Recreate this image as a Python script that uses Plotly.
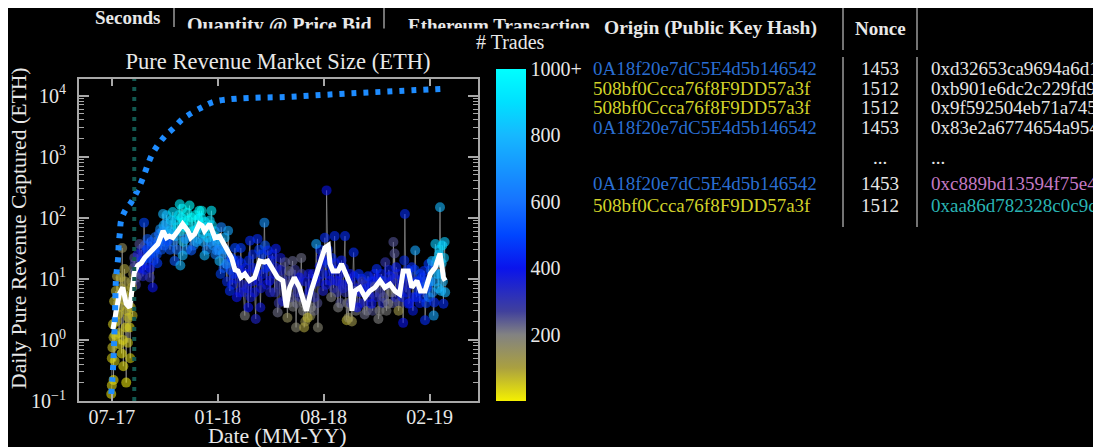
import plotly.graph_objects as go

# ---------------- data ----------------
tick_dates = ["2017-07-30", "2018-01-30", "2018-08-02", "2019-02-02"]
tick_labels = ["07-17", "01-18", "08-18", "02-19"]

y_tick_vals = [0.1, 1, 10, 100, 1000, 10000]
y_tick_text = ["10<sup>\u22121</sup>", "10<sup>0</sup>", "10<sup>1</sup>",
               "10<sup>2</sup>", "10<sup>3</sup>", "10<sup>4</sup>"]

cbar_vals = [200, 400, 600, 800, 1000]
cbar_text = ["200", "400", "600", "800", "1000+"]

# daily pure revenue (ETH) and number of trades (part 1)
day_dates = [
    "2017-07-29", "2017-07-30", "2017-07-31", "2017-08-01", "2017-08-02", "2017-08-03", "2017-08-05",
    "2017-08-06", "2017-08-08", "2017-08-10", "2017-08-12", "2017-08-14", "2017-08-16", "2017-08-17",
    "2017-08-19", "2017-08-21", "2017-08-23", "2017-08-24", "2017-08-26", "2017-08-28", "2017-08-30",
    "2017-09-01", "2017-09-03", "2017-09-05", "2017-09-07",
    "2017-09-09", "2017-09-11", "2017-09-13", "2017-09-16", "2017-09-18", "2017-09-21", "2017-09-24",
    "2017-09-26", "2017-09-29", "2017-10-01", "2017-10-04", "2017-10-06", "2017-10-09", "2017-10-12",
    "2017-10-15", "2017-10-17", "2017-10-20", "2017-10-23",
    "2017-10-26", "2017-10-27", "2017-10-29", "2017-11-01", "2017-11-04", "2017-11-07", "2017-11-10",
    "2017-11-13", "2017-11-16", "2017-11-18", "2017-11-21", "2017-11-25", "2017-11-26", "2017-11-28",
    "2017-11-30", "2017-12-02", "2017-12-05", "2017-12-08", "2017-12-12", "2017-12-15", "2017-12-18",
    "2017-12-21", "2017-12-24", "2017-12-27", "2017-12-29", "2018-01-01", "2018-01-04", "2018-01-07",
    "2018-01-10", "2018-01-13", "2018-01-16", "2018-01-19", "2018-01-22", "2018-01-25", "2018-01-28",
    "2018-01-31", "2018-02-02", "2018-02-05",
    "2018-02-08", "2018-02-11", "2018-02-14", "2018-02-17", "2018-02-20", "2018-02-23", "2018-02-26",
    "2018-03-01", "2018-03-04", "2018-03-08", "2018-03-11", "2018-03-14", "2018-03-18", "2018-03-21",
    "2018-03-24", "2018-03-27", "2018-03-30", "2018-04-02", "2018-04-06", "2018-04-09", "2018-04-11",
    "2018-04-14", "2018-04-17", "2018-04-21", "2018-04-24", "2018-04-27", "2018-04-30", "2018-05-03",
    "2018-05-08", "2018-05-11", "2018-05-14", "2018-05-17", "2018-05-20", "2018-05-23", "2018-05-27",
    "2018-05-31", "2018-06-03", "2018-06-06", "2018-06-09", "2018-06-12", "2018-06-15", "2018-06-18",
    "2018-06-21", "2018-06-24", "2018-06-27", "2018-06-29", "2018-07-02", "2018-07-05", "2018-07-08",
    "2018-07-11", "2018-07-14", "2018-07-17", "2018-07-20", "2018-07-23", "2018-07-26",
    "2018-07-29", "2018-08-01", "2018-08-04", "2018-08-07", "2018-08-10", "2018-08-13", "2018-08-15",
    "2018-08-18", "2018-08-21", "2018-08-24", "2018-08-27", "2018-08-30", "2018-09-02", "2018-09-05",
    "2018-09-08", "2018-09-11", "2018-09-14", "2018-09-17", "2018-09-20", "2018-09-23", "2018-09-26",
    "2018-09-29", "2018-10-02", "2018-10-05", "2018-10-08", "2018-10-12", "2018-10-15", "2018-10-18",
    "2018-10-21", "2018-10-24", "2018-10-27", "2018-10-30", "2018-11-02", "2018-11-05", "2018-11-08",
    "2018-11-11", "2018-11-14", "2018-11-17", "2018-11-20", "2018-11-22", "2018-11-25", "2018-11-28",
    "2018-12-01", "2018-12-03", "2018-12-06", "2018-12-10", "2018-12-13", "2018-12-16", "2018-12-18",
    "2018-12-21", "2018-12-24", "2018-12-27", "2018-12-30", "2019-01-02", "2019-01-05", "2019-01-08",
    "2019-01-11", "2019-01-14", "2019-01-17", "2019-01-20", "2019-01-23", "2019-01-25", "2019-01-28",
    "2019-01-31",
    "2019-02-03", "2019-02-06", "2019-02-09", "2019-02-10", "2019-02-12", "2019-02-15", "2019-02-18",
    "2019-02-20", "2019-02-22", "2019-02-24", "2019-02-26", "2019-02-28", "2019-03-01",
]
day_values = [
    0.13, 0.18, 0.75, 1.8, 0.22, 4.3, 1.2,
    6.3, 11, 2.6, 0.85, 10.5, 0.6, 32,
    0.37, 14.5, 1.6, 0.2, 6.3, 2.3, 1.6,
    3.4, 7.2, 12, 22,
    13, 10.5, 25, 37, 15, 20, 83,
    14, 30, 22, 10.5, 40, 7.2, 28,
    32, 18, 54, 45,
    60, 115, 35, 80, 42, 60, 90,
    124, 19.6, 50, 70, 166, 16.5, 100,
    24, 85, 45, 120, 158, 29, 60,
    70, 40, 95, 130, 100, 55, 24,
    70, 47, 90, 130, 35, 60, 29,
    45, 19.6, 70,
    26, 47, 17.5, 61, 6.3, 22, 12,
    32, 5, 14, 32, 8, 2.5, 12,
    3.4, 42, 9, 15, 2.2, 45, 9.3,
    3.4, 25, 83, 15, 29, 9.3, 20,
    12, 31, 2.8, 8, 14, 4.3, 18.7,
    2.3, 13.4, 5, 19.6, 8, 1.6, 6,
    10.5, 22, 3, 1.6, 9, 2.3, 6.3,
    3.4, 12, 5, 37, 1.6, 16,
    22, 6.3, 47, 280, 17.5, 9.3, 5,
    14, 50, 9.3, 3.4, 12, 20, 7,
    50, 2.1, 2.3, 12, 2, 27, 6.3,
    3.4, 12, 6, 9, 2.6, 7, 11,
    5, 3.9, 9, 7.5, 14.5, 2.2, 6,
    9.3, 5, 18.7, 8, 3.9, 11, 6,
    40, 26, 15.4, 3, 7, 10, 1.9,
    115, 12, 3.9, 8, 15.4, 5, 29,
    9, 6.3, 12, 10.5, 13.4, 2.1, 7,
    17.5,
    9, 19.6, 2.5, 4.1, 37, 12, 25,
    148, 6.3, 35, 3.9, 40, 6,
]
day_trades = [
    30, 40, 60, 50, 30, 70, 40,
    80, 100, 60, 40, 90, 30, 150,
    30, 100, 50, 20, 80, 60, 40,
    70, 90, 120, 250,
    300, 250, 350, 250, 400, 450, 500,
    420, 480, 500, 300, 550, 400, 520,
    550, 480, 600, 650,
    700, 800, 550, 750, 500, 800, 850,
    900, 550, 800, 900, 950, 800, 950,
    800, 1000, 700, 1000, 1000, 550, 900,
    950, 750, 1000, 1000, 950, 850, 800,
    900, 850, 900, 950, 700, 850, 650,
    750, 800, 650,
    700, 800, 650, 750, 450, 500, 450,
    500, 400, 420, 480, 350, 200, 400,
    400, 450, 380, 420, 350, 450, 400,
    380, 480, 700, 450, 450, 400, 420,
    380, 420, 220, 300, 350, 350, 250,
    150, 220, 250, 230, 300, 180, 300,
    400, 220, 200, 100, 380, 80, 400,
    200, 380, 300, 750, 180, 400,
    400, 350, 450, 400, 450, 400, 200,
    420, 450, 380, 200, 400, 420, 350,
    450, 80, 150, 400, 120, 450, 230,
    400, 450, 400, 300, 220, 420, 450,
    350, 400, 420, 250, 450, 200, 300,
    450, 250, 300, 350, 200, 420, 200,
    250, 250, 420, 120, 350, 420, 400,
    450, 450, 420, 400, 450, 420, 750,
    450, 450, 500, 450, 450, 450, 500,
    480,
    700, 800, 750, 450, 850, 800, 850,
    800, 800, 900, 450, 850, 800,
]

# daily pure revenue (ETH) and number of trades (part 2: the remaining days)
day2_dates = [
    "2017-07-30", "2017-08-02", "2017-08-04", "2017-08-07", "2017-08-09", "2017-08-11", "2017-08-13",
    "2017-08-15", "2017-08-18", "2017-08-20", "2017-08-22", "2017-08-25", "2017-08-27", "2017-08-29",
    "2017-08-31", "2017-09-02", "2017-09-04", "2017-09-06",
    "2017-09-08", "2017-09-10", "2017-09-12", "2017-09-14", "2017-09-17", "2017-09-19", "2017-09-22",
    "2017-09-25", "2017-09-28", "2017-09-30", "2017-10-03", "2017-10-05", "2017-10-08", "2017-10-11",
    "2017-10-13", "2017-10-16", "2017-10-19", "2017-10-22", "2017-10-24",
    "2017-10-28", "2017-10-31", "2017-11-02", "2017-11-05", "2017-11-08", "2017-11-11", "2017-11-14",
    "2017-11-17", "2017-11-20", "2017-11-23", "2017-11-27", "2017-11-29", "2017-12-01", "2017-12-04",
    "2017-12-07", "2017-12-10", "2017-12-13", "2017-12-16", "2017-12-19", "2017-12-22", "2017-12-25",
    "2017-12-28", "2017-12-31", "2018-01-02", "2018-01-05", "2018-01-08", "2018-01-11", "2018-01-14",
    "2018-01-17", "2018-01-20", "2018-01-23", "2018-01-26", "2018-01-29", "2018-02-01", "2018-02-04",
    "2018-02-06", "2018-02-09", "2018-02-12", "2018-02-15", "2018-02-18", "2018-02-21", "2018-02-24",
    "2018-02-27", "2018-03-02", "2018-03-06", "2018-03-09", "2018-03-12", "2018-03-16", "2018-03-19",
    "2018-03-22", "2018-03-25", "2018-03-28", "2018-04-01", "2018-04-04", "2018-04-07", "2018-04-12",
    "2018-04-15", "2018-04-19", "2018-04-22", "2018-04-25", "2018-04-28", "2018-05-01", "2018-05-05",
    "2018-05-09", "2018-05-12", "2018-05-16", "2018-05-19", "2018-05-22", "2018-05-25", "2018-05-29",
    "2018-06-01", "2018-06-04", "2018-06-07", "2018-06-10", "2018-06-13", "2018-06-16", "2018-06-19",
    "2018-06-22", "2018-06-25", "2018-06-28", "2018-07-01", "2018-07-04", "2018-07-07", "2018-07-10",
    "2018-07-13", "2018-07-16", "2018-07-19", "2018-07-22", "2018-07-25", "2018-07-27",
    "2018-07-31", "2018-08-03", "2018-08-06", "2018-08-09", "2018-08-12", "2018-08-16", "2018-08-19",
    "2018-08-22", "2018-08-25", "2018-08-28", "2018-08-31", "2018-09-03", "2018-09-06", "2018-09-09",
    "2018-09-12", "2018-09-15", "2018-09-18", "2018-09-21", "2018-09-24", "2018-09-27", "2018-09-30",
    "2018-10-03", "2018-10-07", "2018-10-10", "2018-10-13", "2018-10-16", "2018-10-19", "2018-10-23",
    "2018-10-26", "2018-10-29", "2018-11-01", "2018-11-04", "2018-11-07", "2018-11-10", "2018-11-13",
    "2018-11-16", "2018-11-19", "2018-11-23", "2018-11-27", "2018-11-30", "2018-12-02", "2018-12-05",
    "2018-12-08", "2018-12-11", "2018-12-14", "2018-12-17", "2018-12-20", "2018-12-23", "2018-12-26",
    "2018-12-29", "2019-01-01", "2019-01-04", "2019-01-07", "2019-01-10", "2019-01-13", "2019-01-16",
    "2019-01-19", "2019-01-22", "2019-01-24", "2019-01-27", "2019-01-30",
    "2019-02-01", "2019-02-04", "2019-02-07", "2019-02-11", "2019-02-14", "2019-02-17", "2019-02-19",
    "2019-02-21", "2019-02-23", "2019-02-25", "2019-02-27",
]
day2_values = [
    0.5, 1.1, 0.45, 2, 5, 1.3, 3.5,
    7, 1, 4.5, 9, 3, 0.9, 5,
    0.5, 9, 2.5, 15,
    18, 8, 14, 12, 22, 30, 11,
    35, 18, 45, 25, 15, 35, 20,
    48, 25, 38, 65, 30,
    75, 40, 110, 55, 30, 65, 40,
    90, 30, 110, 60, 140, 40, 70,
    30, 90, 50, 100, 35, 110, 65,
    45, 75, 130, 40, 85, 30, 60,
    40, 75, 50, 25, 40, 30, 12,
    35, 15, 30, 9, 20, 14, 8,
    20, 10, 20, 6, 18, 6, 15,
    7, 20, 5, 25, 6, 13, 30,
    7, 12, 35, 8, 16, 6, 25,
    6, 15, 4, 22, 10, 6, 9,
    4, 8, 12, 3.5, 14, 4, 9,
    5, 12, 4, 2, 5, 12, 2.5,
    8, 3, 10, 4, 9, 30,
    12, 20, 8, 30, 12, 22, 7,
    18, 6, 9, 4, 8, 15, 6,
    4, 9, 4, 8, 11, 3, 7,
    4, 10, 4, 8, 3, 6, 9,
    3, 12, 5, 10, 3, 12, 4,
    9, 3, 14, 9, 4, 10, 5,
    12, 4, 8, 5, 20, 6, 14,
    4, 10, 3, 14, 5, 9, 4,
    7, 5, 9, 4, 8,
    5, 14, 6, 9, 20, 7, 30,
    12, 18, 9, 22,
]
day2_trades = [
    40, 50, 30, 60, 80, 50, 70,
    90, 40, 70, 100, 60, 40, 80,
    30, 120, 60, 200,
    300, 280, 350, 300, 420, 380, 350,
    520, 450, 550, 480, 400, 560, 450,
    600, 520, 560, 700, 550,
    800, 650, 850, 700, 550, 850, 650,
    900, 600, 950, 900, 1000, 850, 950,
    700, 1000, 800, 1000, 650, 1000, 900,
    800, 950, 1000, 750, 950, 650, 900,
    700, 900, 800, 650, 800, 700, 500,
    700, 550, 650, 450, 600, 500, 420,
    480, 420, 450, 400, 450, 350, 420,
    400, 450, 380, 450, 400, 420, 480,
    380, 420, 550, 380, 420, 350, 420,
    320, 380, 280, 380, 300, 250, 280,
    200, 260, 300, 200, 280, 220, 350,
    300, 280, 200, 120, 300, 380, 150,
    350, 220, 400, 250, 380, 450,
    420, 450, 400, 450, 420, 450, 300,
    420, 300, 350, 250, 380, 420, 300,
    200, 400, 300, 350, 420, 200, 380,
    300, 420, 350, 420, 200, 380, 420,
    250, 400, 350, 420, 200, 420, 350,
    300, 200, 420, 400, 250, 300, 350,
    400, 250, 400, 420, 450, 420, 450,
    400, 450, 420, 500, 450, 450, 420,
    450, 450, 500, 480, 550,
    650, 750, 700, 750, 850, 800, 850,
    800, 850, 800, 850,
]

# moving average of daily revenue (white line)
ma_dates = [
    "2017-08-01", "2017-08-07", "2017-08-12", "2017-08-18", "2017-08-24", "2017-08-30", "2017-09-02",
    "2017-09-07", "2017-09-13", "2017-09-19", "2017-09-25", "2017-10-02", "2017-10-07", "2017-10-12",
    "2017-10-18", "2017-10-27", "2017-11-02", "2017-11-07", "2017-11-13", "2017-11-22", "2017-11-30",
    "2017-12-09", "2017-12-14", "2017-12-21", "2017-12-29", "2018-01-03", "2018-01-07", "2018-01-16",
    "2018-01-25", "2018-02-02", "2018-02-06", "2018-02-14", "2018-02-23", "2018-03-01", "2018-03-06",
    "2018-03-11", "2018-03-18", "2018-03-26", "2018-04-04", "2018-04-13", "2018-04-21", "2018-04-27",
    "2018-05-06", "2018-05-14", "2018-05-23", "2018-05-29", "2018-06-04", "2018-06-12", "2018-06-21",
    "2018-07-03", "2018-07-11", "2018-07-17", "2018-07-26", "2018-08-04", "2018-08-10", "2018-08-13",
    "2018-08-18", "2018-08-27", "2018-09-02", "2018-09-08", "2018-09-17", "2018-09-20", "2018-09-25",
    "2018-10-04", "2018-10-13", "2018-10-21", "2018-10-30", "2018-11-08", "2018-11-16", "2018-11-25",
    "2018-12-04", "2018-12-12", "2018-12-18", "2018-12-27", "2019-01-02", "2019-01-11", "2019-01-17",
    "2019-01-25", "2019-02-03", "2019-02-12", "2019-02-20", "2019-02-26", "2019-03-01",
]
ma_values = [
    1.5, 3.5, 5.6, 7.2, 3.9, 3.4, 5,
    12.6, 16.5, 18, 22, 26, 29, 33,
    37, 61, 47, 50, 47, 61, 79,
    61, 47, 54, 79, 74, 61, 79,
    47, 50, 42, 32, 22, 14, 13.4,
    10.5, 12, 9.3, 10.5, 19.6, 18.7, 19.6,
    13.4, 10.5, 9.3, 3.4, 7.2, 10.5, 7.2,
    3, 6.3, 9.3, 15.4, 32, 35, 17.5,
    13.4, 13.4, 17.5, 13.4, 8.2, 3, 6.3,
    7.2, 5, 6.3, 7.2, 9.3, 7.2, 8.2,
    6.3, 5.6, 13.4, 13.4, 7.2, 9.3, 6.3,
    6.3, 12, 15.4, 26, 10.5, 9.3,
]

# cumulative market size (blue dotted line)
cum_dates = [
    "2017-07-29", "2017-07-31", "2017-08-02", "2017-08-03", "2017-08-04", "2017-08-05", "2017-08-06",
    "2017-08-08", "2017-08-10", "2017-08-11", "2017-08-13", "2017-08-15", "2017-08-22", "2017-09-02",
    "2017-09-10", "2017-09-20", "2017-10-09", "2017-10-29", "2017-11-14", "2017-12-01", "2018-01-04",
    "2018-01-24", "2018-03-05", "2018-05-30", "2018-09-07", "2019-02-27",
]
cum_values = [
    0.13, 0.23, 0.5, 0.9, 1.8, 4, 9,
    15, 22, 37, 57, 89, 130, 180,
    250, 400, 1130, 2100, 2900, 4200, 6500,
    7900, 8900, 9500, 10700, 12900,
]

event_date = "2017-09-07"

# background table text
hash_col = ["0A18f20e7dC5E4d5b146542", "508bf0Ccca76f8F9DD57a3f", "508bf0Ccca76f8F9DD57a3f",
            "0A18f20e7dC5E4d5b146542", "", "0A18f20e7dC5E4d5b146542", "508bf0Ccca76f8F9DD57a3f"]
hash_colors = ["#2a6ed2", "#d2d22a", "#d2d22a", "#2a6ed2", "#2a6ed2", "#2a6ed2", "#d2d22a"]
nonce_col = ["1453", "1512", "1512", "1453", "...", "1453", "1512"]
tx_col = ["0xd32653ca9694a6d1", "0xb901e6dc2c229fd9", "0x9f592504eb71a745", "0x83e2a6774654a954",
          "...", "0xc889bd13594f75e4", "0xaa86d782328c0c9c"]
tx_colors = ["#e6e6e6", "#e6e6e6", "#e6e6e6", "#e6e6e6", "#e6e6e6", "#c47ac4", "#2ab4b4"]

# ---------------- figure ----------------
W, H = 1101, 447
OFF = 8  # page offset of the figure inside the browser window
SERIF = "Liberation Serif"
TXT = "#e8e8e8"
AX = "#a8a8a8"


def fx(p):
    return (p - OFF) / W


def fy(p):
    return 1 - (p - OFF) / H


colorscale = [
    [0.0, "#f5f000"], [0.1, "#aaa040"], [0.2, "#828282"], [0.27, "#40409c"],
    [0.4, "#0a14ec"], [0.5, "#0046ff"], [0.6, "#1672ff"], [0.8, "#16b8ff"],
    [0.9, "#00e0ff"], [1.0, "#00ffff"],
]

all_days = sorted(zip(day_dates + day2_dates, day_values + day2_values))

fig = go.Figure()

fig.add_trace(go.Scatter(
    x=[d for d, _ in all_days], y=[v for _, v in all_days], mode="lines",
    line=dict(color="rgba(170,170,170,0.6)", width=1),
    hoverinfo="skip", showlegend=False))

fig.add_trace(go.Scatter(
    x=day2_dates, y=day2_values, mode="markers",
    marker=dict(size=10, color=day2_trades, colorscale=colorscale, cmin=0, cmax=1000,
                opacity=0.55, line=dict(width=0)),
    showlegend=False))

fig.add_trace(go.Scatter(
    x=day_dates, y=day_values, mode="markers",
    marker=dict(size=10, color=day_trades, colorscale=colorscale, cmin=0, cmax=1000,
                opacity=0.6, line=dict(width=0),
                colorbar=dict(
                    x=fx(496), xanchor="left", xref="paper",
                    y=fy(69), yanchor="top", yref="paper",
                    len=332, lenmode="pixels", thickness=30, thicknessmode="pixels",
                    xpad=0, ypad=0, outlinewidth=0,
                    tickmode="array", tickvals=cbar_vals, ticktext=cbar_text,
                    ticks="", tickfont=dict(family=SERIF, size=20, color=TXT),
                )),
    showlegend=False))

fig.add_trace(go.Scatter(
    x=ma_dates, y=ma_values, mode="lines",
    line=dict(color="white", width=5), showlegend=False))

fig.add_trace(go.Scatter(
    x=cum_dates, y=cum_values, mode="lines", xaxis="x3", yaxis="y3",
    line=dict(color="#1e8cff", width=6, dash="5px,7px", shape="spline"),
    showlegend=False))

# header text partially hidden behind the chart (clipped band)
fig.add_trace(go.Scatter(
    x=[187, 408], y=[27, 27], xaxis="x2", yaxis="y2",
    text=["<b>Quantity @ Price Bid</b>", "<b>Ethereum Transaction</b>"],
    mode="text", textposition="middle right", cliponaxis=True,
    textfont=dict(family=SERIF, size=[20, 19], color=TXT),
    hoverinfo="skip", showlegend=False))

minor_vals = [m * 10 ** e for e in range(-1, 5) for m in range(2, 10)]
x_range = ["2017-06-03", "2019-04-27"]
y_range = [-1, 4.27]

fig.update_layout(
    width=W, height=H,
    margin=dict(l=0, r=0, t=0, b=0, pad=0, autoexpand=False),
    paper_bgcolor="black", plot_bgcolor="black",
    hovermode=False,
    title=dict(text="Pure Revenue Market Size (ETH)", x=fx(278), xanchor="center",
               y=fy(61), yanchor="middle", font=dict(family=SERIF, size=22.5, color=TXT)),
    # axes carrying labels and frame
    xaxis=dict(
        type="date", domain=[fx(79), fx(478)], range=x_range,
        tickmode="array", tickvals=tick_dates, ticktext=tick_labels, ticks="",
        showline=True, linecolor=AX, linewidth=2, mirror=True,
        showgrid=False, zeroline=False, ticklabelstandoff=-3,
        tickfont=dict(family=SERIF, size=20, color=TXT),
    ),
    yaxis=dict(
        type="log", domain=[fy(401), fy(79)], range=y_range,
        tickmode="array", tickvals=y_tick_vals, ticktext=y_tick_text, ticks="",
        showline=True, linecolor=AX, linewidth=2, mirror=True,
        showgrid=False, zeroline=False, ticklabelstandoff=7,
        tickfont=dict(family=SERIF, size=20, color=TXT),
    ),
    # overlay axes carrying the inside tick marks
    xaxis3=dict(
        type="date", overlaying="x", anchor="y3", range=x_range,
        tickmode="array", tickvals=tick_dates, showticklabels=False,
        ticks="inside", ticklen=7, tickwidth=1.5, tickcolor=AX,
        showline=True, linecolor=AX, linewidth=2, mirror="ticks",
        showgrid=False, zeroline=False,
    ),
    yaxis3=dict(
        type="log", overlaying="y", anchor="x3", range=y_range,
        tickmode="array", tickvals=y_tick_vals, showticklabels=False,
        ticks="inside", ticklen=10, tickwidth=1.5, tickcolor=AX,
        minor=dict(ticks="inside", ticklen=5, tickwidth=1, tickcolor=AX,
                   tickmode="array", tickvals=minor_vals, showgrid=False),
        showline=True, linecolor=AX, linewidth=2, mirror="ticks",
        showgrid=False, zeroline=False,
    ),
    xaxis2=dict(domain=[0, 1], range=[OFF, W + OFF], visible=False, fixedrange=True),
    yaxis2=dict(domain=[fy(28.5), 1], range=[28.5, OFF], visible=False, fixedrange=True),
)

# event marker (dashed teal vertical line)
fig.add_shape(type="line", xref="x", yref="y domain", x0=event_date, x1=event_date, y0=0, y1=1,
              line=dict(color="#12574f", width=4, dash="4px,6px"), layer="above")

# table separators
sep = dict(color="#9a9a9a", width=1.5)
for (px_, a, b) in [(174, 3, 27), (384, 5, 28.5), (843, 6, 50), (843, 57, 227),
                    (917, 6, 50), (917, 57, 227)]:
    fig.add_shape(type="line", xref="paper", yref="paper", x0=fx(px_), x1=fx(px_),
                  y0=fy(max(a, OFF)), y1=fy(b), line=sep)

ann = []
ann.append(dict(text="Date (MM-YY)", x=fx(277.5), y=fy(436), xanchor="center",
                font=dict(family=SERIF, size=21.8, color=TXT)))
ann.append(dict(text="Daily Pure Revenue Captured (ETH)", x=fx(19), y=fy(228), xanchor="center",
                textangle=-90, font=dict(family=SERIF, size=21.7, color=TXT)))
ann.append(dict(text="# Trades", x=fx(511), y=fy(42), xanchor="center",
                font=dict(family=SERIF, size=20, color=TXT)))
ann.append(dict(text="<b>Seconds</b>", x=fx(94), y=fy(17.5), xanchor="left"))
ann.append(dict(text="<b>Origin (Public Key Hash)</b>", x=fx(603), y=fy(28), xanchor="left",
                font=dict(family=SERIF, size=19.5, color=TXT)))
ann.append(dict(text="<b>Nonce</b>", x=fx(880), y=fy(28), xanchor="center"))
row_y = [68, 88, 107, 127, 158, 183, 205]
for i, ry in enumerate(row_y):
    if hash_col[i]:
        ann.append(dict(text=hash_col[i], x=fx(592), y=fy(ry), xanchor="left",
                        font=dict(family=SERIF, size=19, color=hash_colors[i])))
    ann.append(dict(text=nonce_col[i], x=fx(880), y=fy(ry), xanchor="center"))
    ann.append(dict(text=tx_col[i], x=fx(930), y=fy(ry), xanchor="left",
                    font=dict(family=SERIF, size=19, color=tx_colors[i])))
for a in ann:
    a.setdefault("font", dict(family=SERIF, size=19, color=TXT))
    a.update(xref="paper", yref="paper", yanchor="middle", showarrow=False, borderpad=0)
fig.update_layout(annotations=ann)

fig.write_html("out.html")
